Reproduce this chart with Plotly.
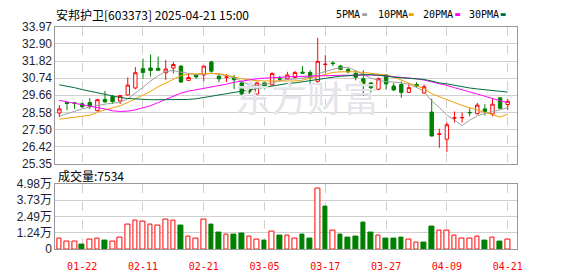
import plotly.graph_objects as go

# ---------------- data ----------------
dates = ["01-17","01-20","01-21","01-22","01-23","01-24","01-27","02-05","02-06","02-07",
         "02-10","02-11","02-12","02-13","02-14","02-17","02-18","02-19","02-20","02-21",
         "02-24","02-25","02-26","02-27","02-28","03-03","03-04","03-05","03-06","03-07",
         "03-10","03-11","03-12","03-13","03-14","03-17","03-18","03-19","03-20","03-21",
         "03-24","03-25","03-26","03-27","03-28","03-31","04-01","04-02","04-03","04-07",
         "04-08","04-09","04-10","04-11","04-14","04-15","04-16","04-17","04-18","04-21"]

opens = [28.54,29.20,29.18,29.12,29.20,28.69,29.40,29.58,29.30,29.68,
         30.12,31.34,31.38,31.36,31.08,31.38,31.50,30.60,30.94,30.94,
         31.76,30.86,30.79,30.78,30.44,30.06,29.74,30.44,30.32,30.70,
         30.70,30.78,31.12,31.10,30.54,31.60,31.70,31.50,31.28,31.04,
         30.70,30.44,30.04,30.94,30.24,30.34,29.84,30.34,29.80,28.60,
         27.20,26.89,28.22,28.24,28.58,28.50,28.80,28.48,29.50,29.08]
highs = [29.04,29.22,29.20,29.20,29.48,29.44,29.94,29.68,29.68,30.78,
         31.44,31.98,32.23,32.10,31.88,31.76,31.54,31.04,30.96,31.52,
         31.84,31.04,31.00,30.94,30.54,30.34,30.52,30.46,31.10,30.88,
         31.14,31.20,31.50,31.24,33.28,32.19,31.80,31.58,31.44,31.24,
         31.24,30.46,30.78,30.98,30.44,30.54,30.44,30.48,30.34,29.44,
         27.55,27.94,28.64,28.58,28.84,29.18,29.10,29.48,29.50,29.44]
lows = [28.28,28.72,28.80,28.84,28.80,28.64,29.20,29.12,29.12,29.64,
        30.04,30.70,30.84,31.20,30.64,31.04,30.44,30.58,30.70,30.54,
        31.08,30.48,30.50,30.04,29.68,29.74,29.72,30.04,30.26,30.54,
        30.64,30.74,31.04,30.34,30.44,31.04,31.50,31.24,31.04,30.60,
        29.64,29.84,29.98,30.04,29.94,29.50,29.82,30.14,29.78,27.08,
        26.35,26.09,27.94,27.94,28.34,28.44,28.39,28.34,28.84,28.74]
closes = [28.80,29.14,29.16,28.94,28.98,29.38,29.24,29.26,29.64,30.30,
          31.08,31.10,31.22,31.24,31.32,31.60,30.50,30.78,30.82,31.50,
          31.18,30.70,30.81,30.64,29.74,29.88,30.44,30.24,31.04,30.68,
          30.94,31.10,31.06,30.78,31.80,31.62,31.66,31.30,31.14,30.80,
          30.40,30.14,30.70,30.38,30.00,29.84,30.14,30.24,30.20,27.09,
          27.22,27.80,28.24,28.26,28.56,29.04,28.64,29.10,28.84,29.28]
volumes = [0.79,0.58,0.58,0.36,0.72,0.79,0.65,0.58,0.87,1.85,
           2.16,2.09,1.88,1.80,2.24,2.16,1.80,0.94,0.79,2.24,
           1.88,1.23,1.08,1.08,1.15,0.94,0.72,0.65,1.30,1.01,
           1.01,0.79,1.08,0.79,4.62,3.25,1.44,1.08,0.87,0.94,
           2.02,1.23,1.01,0.79,0.79,0.87,0.72,0.50,0.50,1.73,
           1.44,1.37,1.01,0.79,0.79,0.94,0.65,0.87,0.58,0.75]

ma5 = [28.34,28.50,28.66,28.80,28.92,29.02,29.10,29.16,29.22,29.44,
       29.78,30.16,30.56,30.90,31.16,31.22,31.12,31.04,30.96,30.98,
       31.04,30.98,30.90,30.76,30.54,30.32,30.28,30.36,30.44,30.58,
       30.66,30.68,30.76,30.82,31.02,31.18,31.30,31.40,31.42,31.20,
       30.96,30.74,30.60,30.52,30.50,30.44,30.36,30.16,29.90,29.30,
       28.90,28.40,28.10,27.74,28.10,28.36,28.52,28.62,28.76,28.88]
ma10 = [28.15,28.22,28.28,28.34,28.40,28.60,28.74,28.86,29.00,29.20,
        29.42,29.64,29.90,30.20,30.44,30.70,30.90,31.00,31.02,31.04,
        31.04,31.02,30.94,30.82,30.70,30.62,30.58,30.56,30.56,30.54,
        30.54,30.56,30.62,30.74,30.90,31.02,31.10,31.14,31.16,31.14,
        31.10,31.06,31.00,30.94,30.82,30.60,30.42,30.26,30.08,29.76,
        29.56,29.40,29.20,29.02,28.86,28.72,28.58,28.44,28.28,28.48]
ma20 = [29.34,29.24,29.14,29.06,28.98,28.88,28.80,28.68,28.64,28.66,
        28.74,28.86,29.00,29.20,29.40,29.64,29.80,29.92,30.00,30.08,
        30.16,30.24,30.36,30.48,30.56,30.64,30.70,30.74,30.78,30.80,
        30.82,30.84,30.86,30.86,30.88,30.88,30.90,30.92,30.92,30.94,
        30.94,30.94,30.92,30.88,30.82,30.78,30.74,30.70,30.62,30.52,
        30.40,30.28,30.14,30.02,29.86,29.74,29.60,29.44,29.32,29.20]
ma30 = [30.32,30.24,30.14,30.02,29.92,29.80,29.72,29.60,29.52,29.46,
        29.42,29.38,29.38,29.38,29.38,29.38,29.38,29.40,29.44,29.52,
        29.62,29.70,29.78,29.88,29.94,30.02,30.12,30.20,30.28,30.34,
        30.40,30.44,30.52,30.60,30.68,30.74,30.80,30.86,30.90,30.94,
        30.96,30.96,30.94,30.88,30.80,30.76,30.74,30.72,30.66,30.56,
        30.44,30.38,30.28,30.20,30.12,30.06,30.02,29.98,29.92,29.86]

tick_dates = ["01-22","02-11","02-21","03-05","03-17","03-27","04-09","04-21"]
price_ticks = [25.35,26.42,27.50,28.58,29.66,30.74,31.82,32.90,33.97]
price_tick_text = ["25.35","26.42","27.50","28.58","29.66","30.74","31.82","32.90","33.97"]
vol_ticks = [0,1.24,2.49,3.73,4.98]
vol_tick_text = ["0","1.24万","2.49万","3.73万","4.98万"]

title_text = "安邦护卫[603373] 2025-04-21 15:00"
vol_label = "成交量:7534"
ma_names = ["5PMA","10PMA","20PMA","30PMA"]

# ---------------- style ----------------
W, H = 578, 276
RED = "#ff0000"
GREEN = "#008000"
MA_COLORS = ["#a0a0a0", "#f0a000", "#ff00ff", "#006f3a"]
GRID = "#d0d0d0"
BORDER = "#999999"

def pxx(x): return x / W
def pyy(y): return 1 - y / H

xs = list(range(len(dates)))
tick_idx = [dates.index(d) for d in tick_dates]
xr = [-0.52, 60.17]

fig = go.Figure()
fig.add_trace(go.Candlestick(
    x=xs, open=opens, high=highs, low=lows, close=closes,
    increasing=dict(line=dict(color=RED, width=1), fillcolor="#ffffff"),
    decreasing=dict(line=dict(color=GREEN, width=1), fillcolor=GREEN),
    whiskerwidth=0, showlegend=False, hoverinfo="skip",
    xaxis="x", yaxis="y"))

for vals, col in zip([ma5, ma10, ma20, ma30], MA_COLORS):
    fig.add_trace(go.Scatter(x=xs, y=vals, mode="lines",
                             line=dict(color=col, width=1),
                             showlegend=False, hoverinfo="skip",
                             xaxis="x", yaxis="y"))

vol_up = [True] + [closes[i] >= closes[i-1] for i in range(1, len(closes))]
fig.add_trace(go.Bar(
    x=xs, y=volumes, width=0.62,
    marker=dict(color=["#ffffff" if u else GREEN for u in vol_up],
                line=dict(color=[RED if u else GREEN for u in vol_up], width=1)),
    showlegend=False, hoverinfo="skip", xaxis="x2", yaxis="y2"))

axis_common = dict(showline=True, mirror=True, linecolor=BORDER, linewidth=1,
                   zeroline=False, ticks="", fixedrange=True)

fig.update_layout(
    width=W, height=H, margin=dict(l=0, r=0, t=0, b=0),
    paper_bgcolor="white", plot_bgcolor="white",
    boxgap=0.36, bargap=0,
    xaxis=dict(domain=[pxx(56), pxx(522)], range=xr, anchor="y",
               tickvals=tick_idx, showticklabels=False,
               showgrid=True, gridcolor=GRID, griddash="dash", gridwidth=1,
               rangeslider=dict(visible=False), **axis_common),
    yaxis=dict(domain=[pyy(165), pyy(21)], range=[25.35, 33.97], anchor="x",
               tickvals=price_ticks, ticktext=price_tick_text,
               showgrid=True, gridcolor=GRID, gridwidth=1,
               tickfont=dict(family="Liberation Sans, Arial", size=12, color="#1e1e32"),
               **axis_common),
    xaxis2=dict(domain=[pxx(56), pxx(522)], range=xr, anchor="y2", matches="x",
                tickvals=tick_idx, ticktext=tick_dates, ticklabelstandoff=8,
                showgrid=True, gridcolor=GRID, griddash="dash", gridwidth=1,
                tickfont=dict(family="DejaVu Sans Mono, monospace", size=10, color=RED),
                **axis_common),
    yaxis2=dict(domain=[pyy(255), pyy(186)], range=[0, 4.98], anchor="x2",
                tickvals=vol_ticks, ticktext=vol_tick_text,
                showgrid=True, gridcolor=GRID, gridwidth=1,
                tickfont=dict(family="Liberation Sans, Noto Sans CJK SC", size=12, color="#1e1e32"),
                **axis_common),
)

ann = []
ann.append(dict(x=pxx(55), y=pyy(8), xref="paper", yref="paper", text=title_text,
                showarrow=False, xanchor="left", yanchor="middle",
                font=dict(family="Noto Sans CJK SC", size=12, color="#000000")))
ann.append(dict(x=pxx(57), y=pyy(177), xref="paper", yref="paper", text=vol_label,
                showarrow=False, xanchor="left", yanchor="middle",
                font=dict(family="Noto Sans CJK SC", size=12, color="#000000")))
ann.append(dict(x=pxx(310), y=pyy(94), xref="paper", yref="paper", text="东方财富",
                showarrow=False, xanchor="center", yanchor="middle",
                font=dict(family="Noto Sans CJK SC", size=36, color="#e4e4ea")))
legend_x = [338, 380, 425, 472]
sq_x = [366, 413, 460, 506]
shapes = []
for name, lx, sx, col in zip(ma_names, legend_x, sq_x, MA_COLORS):
    ann.append(dict(x=pxx(lx), y=pyy(8), xref="paper", yref="paper", text=name,
                    showarrow=False, xanchor="left", yanchor="middle",
                    font=dict(family="DejaVu Sans Mono", size=10, color="#000000")))
    shapes.append(dict(type="rect", xref="paper", yref="paper",
                       x0=pxx(sx), x1=pxx(sx + 5), y0=pyy(9.5), y1=pyy(6.5),
                       fillcolor=col, line=dict(width=0)))
fig.update_layout(annotations=ann, shapes=shapes)

fig.write_html("out.html")
